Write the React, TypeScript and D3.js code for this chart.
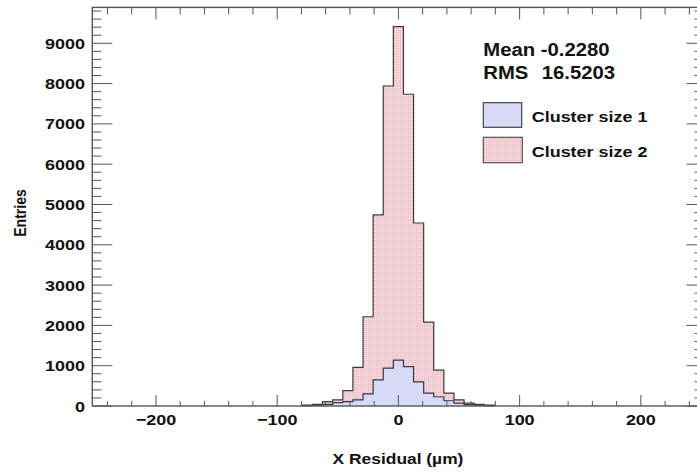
import React from "react";
import * as d3 from "d3";

// ---- data ----
const binWidth = 500 / 60; // µm
const binCentres = [-75, -66.667, -58.333, -50, -41.667, -33.333, -25, -16.667, -8.333, 0, 8.333, 16.667, 25, 33.333, 41.667, 50, 58.333, 66.667, 75];
const clusterSize2 = [25, 40, 107, 150, 380, 960, 2215, 4740, 7940, 9412, 7735, 4540, 2080, 890, 320, 150, 70, 40, 25];
const clusterSize1 = [10, 20, 40, 85, 107, 150, 300, 650, 940, 1140, 975, 600, 320, 230, 130, 70, 35, 20, 10];
const xMajorTicks = [-200, -100, 0, 100, 200];
const xTickLabels = ["\u2212200", "\u2212100", "0", "100", "200"];
const yMajorTicks = [0, 1000, 2000, 3000, 4000, 5000, 6000, 7000, 8000, 9000];
const statsLines = [["Mean", "-0.2280"], ["RMS", "16.5203"]];
const legendLabels = ["Cluster size 1", "Cluster size 2"];

const W = 697, H = 474;
const FONT = "'Liberation Sans', Arial, Helvetica, sans-serif";
const SX = 1.16;

const x = d3.scaleLinear().domain([-252.5, 252.5]).range([92.3, 704.5]);
const y = d3.scaleLinear().domain([0, 9890]).range([406, 7.4]);

function stepPath(vals: number[]) {
  const pts: [number, number][] = [];
  const first = binCentres[0] - binWidth / 2;
  pts.push([x(first), y(0)]);
  vals.forEach((v, i) => {
    const lo = binCentres[i] - binWidth / 2;
    const hi = binCentres[i] + binWidth / 2;
    pts.push([x(lo), y(v)]);
    pts.push([x(hi), y(v)]);
  });
  const last = binCentres[binCentres.length - 1] + binWidth / 2;
  pts.push([x(last), y(0)]);
  return d3.line()(pts) as string;
}

function T(props: { x: number; y: number; size: number; anchor?: string; children: React.ReactNode; rotate?: boolean }) {
  const tr = props.rotate
    ? `translate(${props.x},${props.y}) rotate(-90) scale(1,${SX})`
    : `translate(${props.x},${props.y}) scale(${SX},1)`;
  return (
    <text transform={tr} fontFamily={FONT} fontWeight="bold" fontSize={props.size} textAnchor={props.anchor || "start"} fill="#111">
      {props.children}
    </text>
  );
}

export default function App() {
  const x0 = x.range()[0], x1 = x.range()[1];
  const y0 = y.range()[0], y1 = y.range()[1];
  const xMinor = d3.range(-240, 241, 20).filter((v) => v % 100 !== 0);
  const yMinor = d3.range(200, 9801, 200).filter((v) => v % 1000 !== 0);
  return (
    <svg width={W} height={H} style={{ position: "absolute", left: 0, top: 0, background: "#fff" }}>
      <defs>
        <pattern id="pink" width="4" height="4" patternUnits="userSpaceOnUse">
          <rect width="4" height="4" fill="#f3c3ca" />
          <rect x="1" y="1" width="1" height="1" fill="#fff" />
          <rect x="3" y="3" width="1" height="1" fill="#fff" />
          <rect x="1" y="3" width="1" height="1" fill="#fde9ec" />
          <rect x="3" y="1" width="1" height="1" fill="#fde9ec" />
        </pattern>
        <pattern id="blue" width="4" height="4" patternUnits="userSpaceOnUse">
          <rect width="4" height="4" fill="#d6d9f6" />
          <rect x="1" y="1" width="1" height="1" fill="#e8eafb" />
          <rect x="3" y="3" width="1" height="1" fill="#e8eafb" />
        </pattern>
      </defs>
      <rect width={W} height={H} fill="#fff" />

      {/* histograms */}
      <path d={stepPath(clusterSize2)} fill="url(#pink)" stroke="#3a3a3a" strokeWidth={1.2} />
      <path d={stepPath(clusterSize1)} fill="url(#blue)" stroke="#36364a" strokeWidth={1.2} />

      {/* frame */}
      <rect x={x0} y={y1} width={x1 - x0} height={y0 - y1} fill="none" stroke="#555" strokeWidth={1.4} />

      {/* x ticks bottom & top */}
      {xMajorTicks.map((v) => (
        <g key={"xm" + v}>
          <line x1={x(v)} x2={x(v)} y1={y0} y2={y0 - 11} stroke="#555" strokeWidth={1} />
          <line x1={x(v)} x2={x(v)} y1={y1} y2={y1 + 12} stroke="#555" strokeWidth={1} />
        </g>
      ))}
      {xMinor.map((v) => (
        <g key={"xn" + v}>
          <line x1={x(v)} x2={x(v)} y1={y0} y2={y0 - 5} stroke="#555" strokeWidth={1} />
          <line x1={x(v)} x2={x(v)} y1={y1} y2={y1 + 7} stroke="#555" strokeWidth={1} />
        </g>
      ))}
      {/* y ticks left & right */}
      {yMajorTicks.map((v) => (
        <g key={"ym" + v}>
          <line x1={x0} x2={x0 + 20} y1={y(v)} y2={y(v)} stroke="#555" strokeWidth={1} />
          <line x1={x1} x2={x1 - 18} y1={y(v)} y2={y(v)} stroke="#555" strokeWidth={1} />
        </g>
      ))}
      {yMinor.map((v) => (
        <g key={"yn" + v}>
          <line x1={x0} x2={x0 + 9} y1={y(v)} y2={y(v)} stroke="#555" strokeWidth={1} />
          <line x1={x1} x2={x1 - 10} y1={y(v)} y2={y(v)} stroke="#555" strokeWidth={1} />
        </g>
      ))}

      {/* tick labels */}
      {xMajorTicks.map((v, i) => (
        <T key={"xl" + v} x={x(v)} y={425} size={15.5} anchor="middle">{xTickLabels[i]}</T>
      ))}
      {yMajorTicks.map((v) => (
        <T key={"yl" + v} x={85} y={y(v) + 5.5} size={15.5} anchor="end">{String(v)}</T>
      ))}

      {/* axis titles */}
      <T x={398} y={464} size={15} anchor="middle">X Residual (µm)</T>
      <T x={26} y={213} size={14} anchor="middle" rotate>Entries</T>

      {/* stats */}
      <T x={483.3} y={56} size={17.5}>{statsLines[0][0] + " " + statsLines[0][1]}</T>
      <T x={483.3} y={79.3} size={17.5}>{statsLines[1][0]}</T>
      <T x={541.7} y={79.3} size={17.5}>{statsLines[1][1]}</T>

      {/* legend */}
      <rect x={483.3} y={102.7} width={38.4} height={24.6} fill="url(#blue)" stroke="#444" strokeWidth={1.2} />
      <T x={531.7} y={121.7} size={15.5}>{legendLabels[0]}</T>
      <rect x={483.3} y={137.3} width={39} height={25.4} fill="url(#pink)" stroke="#555" strokeWidth={1.2} />
      <T x={531.7} y={157.3} size={15.5}>{legendLabels[1]}</T>
    </svg>
  );
}
